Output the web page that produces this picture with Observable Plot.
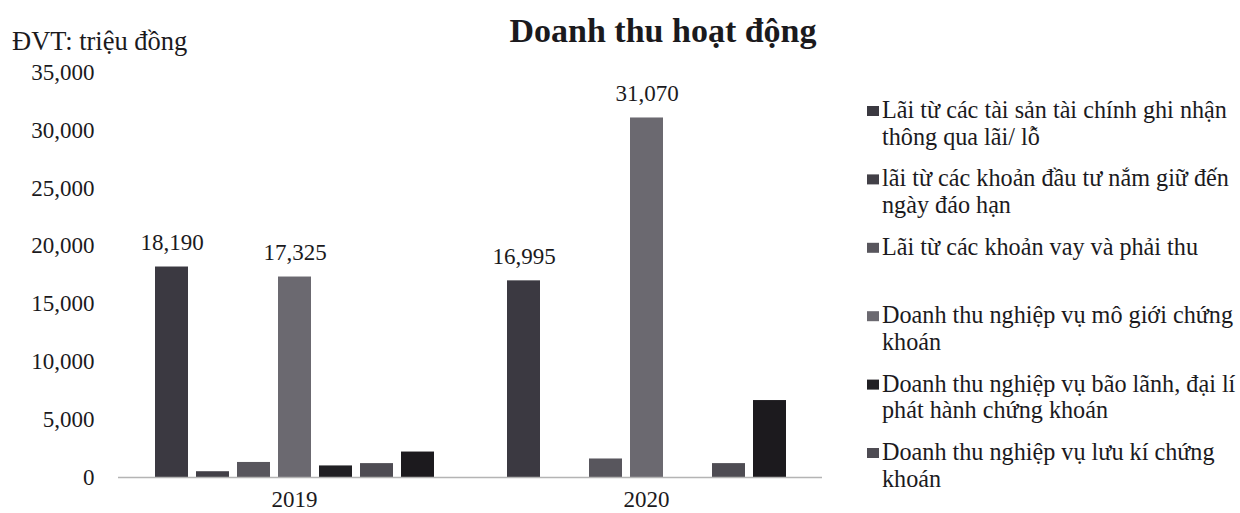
<!DOCTYPE html>
<html>
<head>
<meta charset="utf-8">
<script src="https://cdn.jsdelivr.net/npm/d3@7"></script>
<script src="https://cdn.jsdelivr.net/npm/@observablehq/plot@0.6"></script>
<style>
  body { margin: 0; background: #ffffff; }
  #wrap { position: relative; width: 1240px; height: 513px; overflow: hidden; }
  #wrap svg { position: absolute; left: 0; top: 0; }
</style>
</head>
<body>
<div id="wrap"></div>
<script>
// Doanh thu hoạt động, 2019–2020 (ĐVT: triệu đồng)
const years = ["2019", "2020"];

// Legend text, broken into the lines it is printed on
const legendLines = [
  ["Lãi từ các tài sản tài chính ghi nhận", "thông qua lãi/ lỗ"],
  ["lãi từ các khoản đầu tư nắm giữ đến", "ngày đáo hạn"],
  ["Lãi từ các khoản vay và phải thu"],
  ["Doanh thu nghiệp vụ mô giới chứng", "khoán"],
  ["Doanh thu nghiệp vụ bão lãnh, đại lí", "phát hành chứng khoán"],
  ["Doanh thu nghiệp vụ lưu kí chứng", "khoán"]
];
const series = [...legendLines.map(l => l.join(" ")), "Doanh thu hoạt động khác"];

const values2019 = [18190, 500, 1300, 17325, 1000, 1200, 2200];
const values2020 = [16995, 0, 1600, 31070, 0, 1200, 6650];
const labeledSeries = [series[0], series[3]];

const yTicks = [0, 5000, 10000, 15000, 20000, 25000, 30000, 35000];
const colors = ["#3b3941", "#424047", "#58565d", "#6b6970", "#212024", "#4e4c53", "#1c1a1e"];

const rows = [
  ...series.map((s, i) => ({year: years[0], series: s, value: values2019[i]})),
  ...series.map((s, i) => ({year: years[1], series: s, value: values2020[i]}))
];
const fmt = d3.format(",");
const ink = "#1b1a1d";
const serif = "'Liberation Serif', 'Times New Roman', serif";

const chart = Plot.plot({
  width: 1240,
  height: 513,
  marginTop: 72,
  marginBottom: 36,
  marginLeft: 118,
  marginRight: 418,
  style: {fontFamily: serif, fontSize: "23px", color: ink, background: "transparent"},
  fx: {domain: years, padding: 0, label: null},
  x: {domain: series, axis: null, paddingInner: 0.207, paddingOuter: 0.83},
  y: {domain: [0, 35000], label: null},
  color: {domain: series, range: colors},
  marks: [
    Plot.axisY({ticks: yTicks, tickFormat: fmt, tickSize: 0, tickPadding: 24, label: null, fontSize: 23}),
    Plot.axisFx({anchor: "bottom", tickSize: 0, tickPadding: 13, label: null, fontSize: 23}),
    Plot.barY(rows, {fx: "year", x: "series", y: "value", fill: "series"}),
    Plot.ruleY([0], {stroke: "#b4b4b4", strokeWidth: 1.5}),
    Plot.text(rows.filter(d => labeledSeries.includes(d.series)), {
      fx: "year", x: "series", y: "value",
      text: d => fmt(d.value),
      lineAnchor: "bottom", dy: -17, fontSize: 23, fill: ink
    })
  ]
});

const wrap = document.getElementById("wrap");
wrap.appendChild(chart);

// Title, unit note and legend
const svg = d3.select(wrap).append("svg")
  .attr("width", 1240).attr("height", 513)
  .style("font-family", serif)
  .attr("fill", ink);

svg.append("text")
  .attr("x", 663).attr("y", 42)
  .attr("text-anchor", "middle")
  .attr("font-size", 34).attr("font-weight", "bold")
  .text("Doanh thu hoạt động");

svg.append("text")
  .attr("x", 12).attr("y", 50)
  .attr("font-size", 26.5)
  .text("ĐVT: triệu đồng");

const legend = svg.append("g").attr("font-size", 24.2);
legendLines.forEach((lines, i) => {
  const base = 118 + i * 68.4;
  legend.append("rect")
    .attr("x", 867).attr("y", base - 12)
    .attr("width", 12).attr("height", 10)
    .attr("fill", colors[i]);
  lines.forEach((line, j) => {
    legend.append("text")
      .attr("x", 882).attr("y", base + j * 26.5)
      .text(line);
  });
});
</script>
</body>
</html>
